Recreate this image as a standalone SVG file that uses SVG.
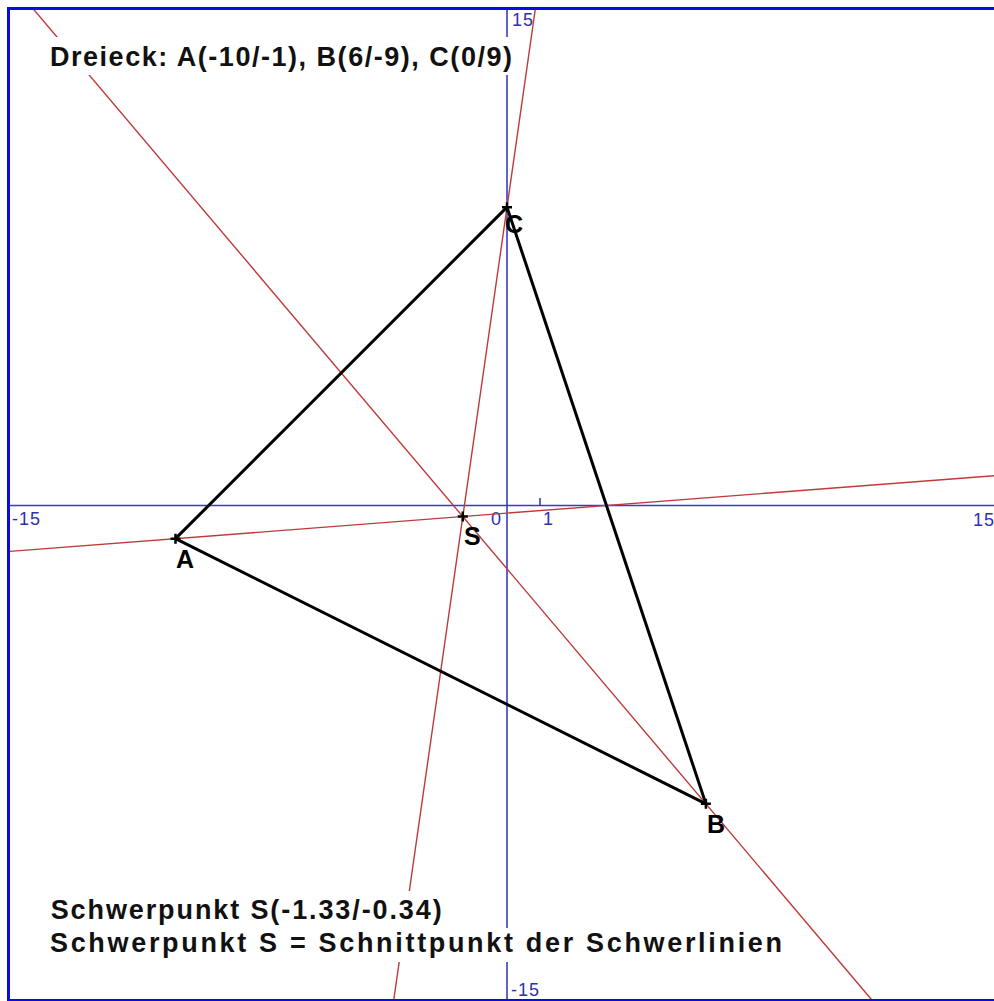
<svg xmlns="http://www.w3.org/2000/svg" width="994" height="1001" viewBox="0 0 994 1001">
  <defs>
    <style>
      .axis { stroke: #3a3ac8; stroke-width: 1.6; fill: none; }
      .axlbl { font-family: "Liberation Sans", Arial, sans-serif; font-size: 18px; fill: #2f2fb0; letter-spacing: 1px; }
      .median { stroke: #c03a3a; stroke-width: 1.4; fill: none; }
      .side { stroke: #000; stroke-width: 3; fill: none; stroke-linecap: round; }
      .mark { stroke: #000; stroke-width: 2.5; fill: none; }
      .vlbl { font-family: "Liberation Sans", Arial, sans-serif; font-size: 25px; font-weight: bold; fill: #000; }
      .info { font-family: "Liberation Sans", Arial, sans-serif; font-size: 27px; font-weight: bold; fill: #111; }
      .bg { fill: #fff; }
    </style>
    <clipPath id="frame">
      <rect x="10" y="10" width="990" height="992"/>
    </clipPath>
  </defs>
  <rect x="0" y="0" width="994" height="1001" fill="#fff"/>

  <g id="axes" clip-path="url(#frame)">
    <line class="axis" x1="0" y1="505.5" x2="1000" y2="505.5"/>
    <line class="axis" x1="507" y1="0" x2="507" y2="1001"/>
    <line class="axis" x1="540" y1="498" x2="540" y2="505.5"/>
    <text class="axlbl" x="12" y="525">-15</text>
    <text class="axlbl" x="973" y="526">15</text>
    <text class="axlbl" x="491" y="525">0</text>
    <text class="axlbl" x="543" y="525">1</text>
    <text class="axlbl" x="512" y="26">15</text>
    <text class="axlbl" x="511" y="996">-15</text>
  </g>

  <g id="connectors" clip-path="url(#frame)">
    <!-- Schwerlinien (medians) -->
    <line id="median-A" class="median" x1="0" y1="552.15" x2="1000" y2="475.23"/>
    <line id="median-B" class="median" x1="25.7" y1="0" x2="872.3" y2="1000.5"/>
    <line id="median-C" class="median" x1="536.6" y1="0" x2="393.6" y2="1001"/>
    <!-- triangle sides -->
    <line id="side-AC" class="side" x1="175.5" y1="538.65" x2="507" y2="207.15"/>
    <line id="side-CB" class="side" x1="507" y1="207.15" x2="705.9" y2="803.85"/>
    <line id="side-AB" class="side" x1="175.5" y1="538.65" x2="705.9" y2="803.85"/>
  </g>

  <g id="node-A">
    <path class="mark" d="M170.5 538.65 H180.5 M175.5 533.65 V543.65"/>
    <text class="vlbl" x="176" y="568">A</text>
  </g>
  <g id="node-B">
    <path class="mark" d="M700.9 803.85 H710.9 M705.9 798.85 V808.85"/>
    <text class="vlbl" x="707" y="833">B</text>
  </g>
  <g id="node-C">
    <path class="mark" d="M502 207.15 H512 M507 202.15 V212.15"/>
    <text class="vlbl" x="505" y="233">C</text>
  </g>
  <g id="node-S">
    <path class="mark" d="M457.8 516.55 H467.8 M462.8 511.55 V521.55"/>
    <text class="vlbl" x="464" y="545">S</text>
  </g>

  <g id="title">
    <rect class="bg" x="44" y="37" width="473" height="38"/>
    <text class="info" x="50" y="66" textLength="462" lengthAdjust="spacing">Dreieck: A(-10/-1), B(6/-9), C(0/9)</text>
  </g>
  <g id="info">
    <rect class="bg" x="44" y="891" width="402" height="37"/>
    <rect class="bg" x="44" y="928" width="742" height="34"/>
    <text class="info" x="50.7" y="919" textLength="391" lengthAdjust="spacing">Schwerpunkt S(-1.33/-0.34)</text>
    <text class="info" x="50" y="952" textLength="732" lengthAdjust="spacing">Schwerpunkt S = Schnittpunkt der Schwerlinien</text>
  </g>

  <rect id="frame-border" x="8.5" y="8.5" width="1000" height="992" fill="none" stroke="#0a0ae6" stroke-width="3"/>
</svg>
